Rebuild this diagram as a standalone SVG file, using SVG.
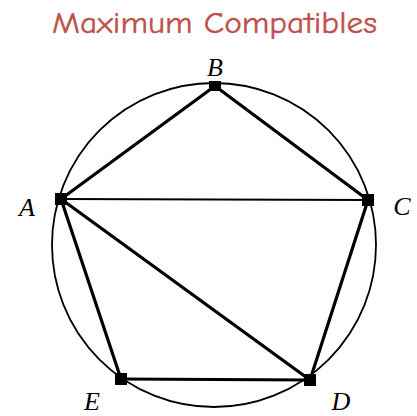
<svg xmlns="http://www.w3.org/2000/svg" width="417" height="416" viewBox="0 0 417 416">
<style>
.title{font-family:"Comic Sans MS","Comic Neue","Open Sans",sans-serif;font-size:30px;fill:#c0504d;stroke:#c0504d;stroke-width:0.4;}
.lbl{font-family:"Liberation Serif","Times New Roman",serif;font-style:italic;font-size:26px;fill:#000;text-anchor:middle;}
.thick{stroke:#000;stroke-width:3.2;fill:none;stroke-linecap:round;}
.thin{stroke:#000;stroke-width:1.8;fill:none;}
.dot{fill:#000;}
</style>
<rect width="417" height="416" fill="#fff"/>
<text class="title" x="52" y="33" textLength="325" lengthAdjust="spacingAndGlyphs">Maximum Compatibles</text>
<g id="connectors">
<circle cx="214" cy="245" r="162" class="thin" stroke-width="2.2"/>
<line x1="61" y1="199" x2="215" y2="86" class="thick"/>
<line x1="215" y1="86" x2="368" y2="200" class="thick"/>
<line x1="61" y1="199" x2="368" y2="200" class="thin"/>
<line x1="61" y1="199" x2="121" y2="379" class="thick"/>
<line x1="61" y1="199" x2="310" y2="380" class="thick"/>
<line x1="368" y1="200" x2="310" y2="380" class="thick"/>
<line x1="121" y1="379" x2="310" y2="380" class="thick"/>
</g>
<g id="node-B"><rect class="dot" x="209" y="81" width="12" height="10"/><text class="lbl" x="215" y="76">B</text></g>
<g id="node-A"><rect class="dot" x="55" y="193" width="12" height="12"/><text class="lbl" x="27" y="216">A</text></g>
<g id="node-C"><rect class="dot" x="362" y="194" width="12" height="12"/><text class="lbl" x="402" y="215">C</text></g>
<g id="node-E"><rect class="dot" x="115" y="373" width="12" height="12"/><text class="lbl" x="92" y="410">E</text></g>
<g id="node-D"><rect class="dot" x="304" y="374" width="12" height="12"/><text class="lbl" x="341" y="410">D</text></g>
</svg>
